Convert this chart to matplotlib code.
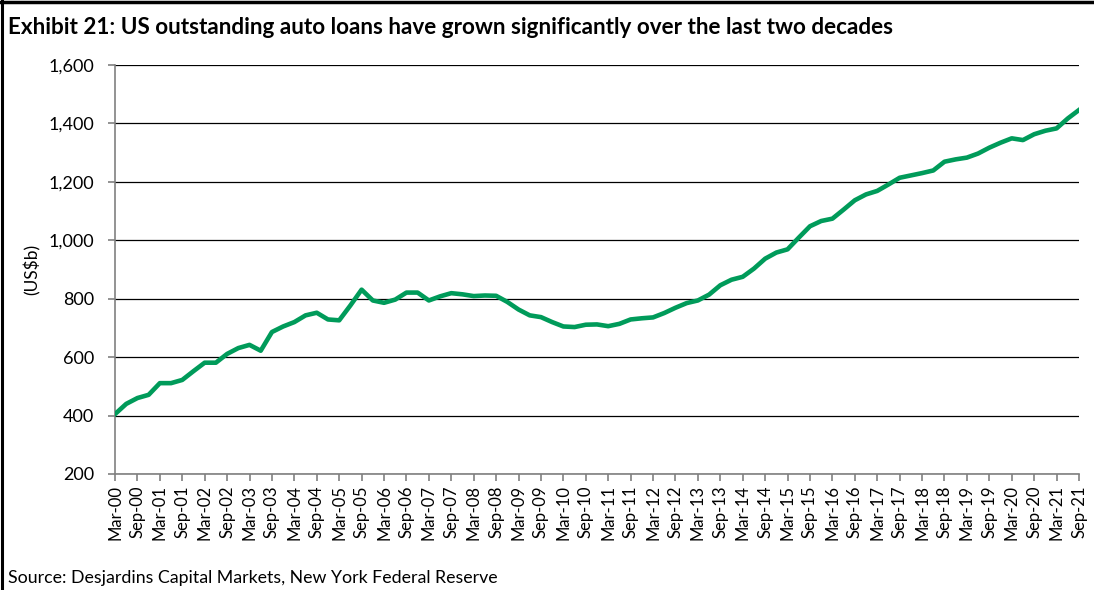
import numpy as np
import matplotlib.pyplot as plt
from matplotlib.lines import Line2D

plt.rcParams['font.family'] = ['Lato', 'DejaVu Sans']

# 四半期データ (Mar-00 .. Sep-21)
auto_loans = [
    405, 440, 460, 471, 511, 511, 522, 552, 581, 581,
    611, 631, 642, 622, 686, 705, 720, 743, 752, 729,
    726, 777, 831, 794, 786, 797, 821, 821, 794, 808,
    819, 815, 809, 811, 810, 789, 763, 743, 737, 720,
    705, 703, 711, 712, 706, 714, 729, 733, 736, 751,
    769, 785, 794, 814, 846, 865, 875, 903, 937, 958,
    969, 1009, 1048, 1066, 1074, 1105, 1137, 1157, 1169, 1191,
    1214, 1222, 1230, 1239, 1269, 1277, 1283, 1297, 1317, 1334,
    1349, 1343, 1363, 1375, 1383, 1417, 1446,
]
tick_labels = [f"{m}-{y % 100:02d}" for y in range(2000, 2022) for m in ("Mar", "Sep")]
y_ticks = [200, 400, 600, 800, 1000, 1200, 1400, 1600]

title = "Exhibit 21: US outstanding auto loans have grown significantly over the last two decades"
source = "Source: Desjardins Capital Markets, New York Federal Reserve"

W, H = 1094, 590
fig = plt.figure(figsize=(W / 100, H / 100), dpi=100)
ax = fig.add_axes([115 / W, 1 - 474 / H, (1079 - 115) / W, (474 - 65) / H])

x = np.arange(len(auto_loans))
ax.plot(x, auto_loans, color='#009B5A', lw=3.3, solid_joinstyle='round', zorder=3)

ax.set_xlim(0, len(auto_loans) - 1)
ax.set_ylim(200, 1600)
ax.set_yticks(y_ticks)
ax.set_yticklabels([f"{v:,}" for v in y_ticks], fontsize=13)
ax.set_xticks(x[::2])
ax.set_xticklabels(tick_labels, rotation=90, fontsize=12)
ax.yaxis.grid(True, color='black', lw=0.9)
ax.set_axisbelow(True)
for s in ('top', 'right'):
    ax.spines[s].set_visible(False)
for s in ('left', 'bottom'):
    ax.spines[s].set_color('#808080')
    ax.spines[s].set_linewidth(1.2)
ax.tick_params(axis='both', length=5, color='#808080', width=1.2)
ax.tick_params(axis='y', pad=10)
ax.tick_params(axis='x', pad=3)
ax.set_ylabel("(US$b)", fontsize=12.5, va='center')
ax.yaxis.set_label_coords((32 - 115) / 964, 0.5)

fig.text(8 / W, 1 - 28 / H, title, fontsize=16.2, fontweight='bold', va='center', ha='left')
fig.text(8 / W, 1 - 578 / H, source, fontsize=12.8, va='center', ha='left')

# 枠線 (左と上のみ)
fig.add_artist(Line2D([1.5 / W, 1.5 / W], [0, 1], transform=fig.transFigure, color='black', lw=2.2))
fig.add_artist(Line2D([0, 1], [1 - 1.5 / H, 1 - 1.5 / H], transform=fig.transFigure, color='black', lw=2.5))

fig.savefig("out.png", dpi=100)
